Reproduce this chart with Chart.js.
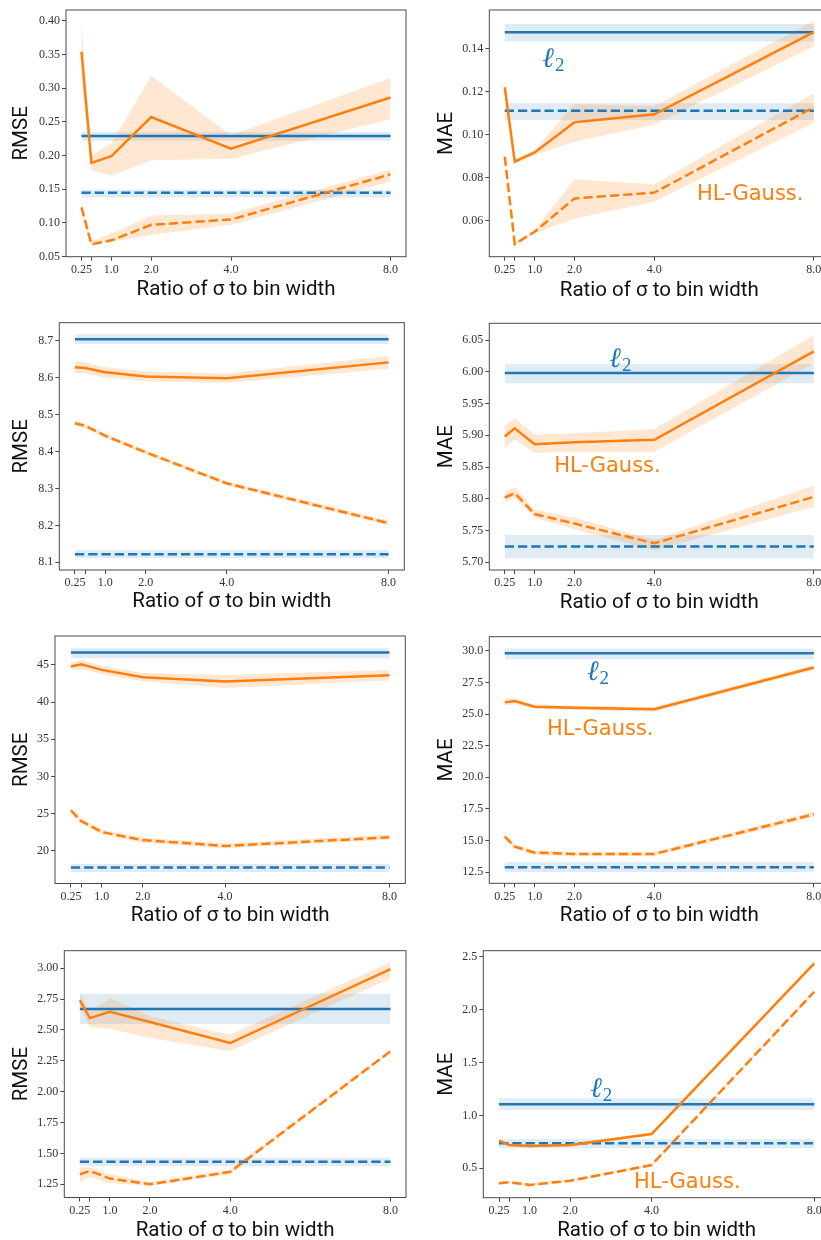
<!DOCTYPE html>
<html>
<head>
<meta charset="utf-8">
<script src="https://cdn.jsdelivr.net/npm/chart.js@4.4.1/dist/chart.umd.min.js"></script>
<style>
  html, body { margin: 0; padding: 0; background: #fff; width: 821px; height: 1240px; overflow: hidden; position: relative; }
  canvas { position: absolute; }
</style>
</head>
<body>
<script>
// --- shared x axis ---
const sigmaRatio = [0.25, 0.5, 1.0, 2.0, 4.0, 8.0];
const xTickLabels = ['0.25', '', '1.0', '2.0', '4.0', '8.0'];
const xTitle = 'Ratio of σ to bin width';

// --- panel 1: RMSE ---
const p1YTicks = ['0.05', '0.10', '0.15', '0.20', '0.25', '0.30', '0.35', '0.40'];
const p1Solid   = [0.354, 0.189, 0.199, 0.257, 0.210, 0.286];
const p1SolidLo = [0.310, 0.178, 0.170, 0.193, 0.195, 0.254];
const p1SolidHi = [0.400, 0.200, 0.218, 0.318, 0.230, 0.315];
const p1Dash    = [0.123, 0.068, 0.074, 0.097, 0.105, 0.172];
const p1DashLo  = [0.114, 0.066, 0.072, 0.082, 0.097, 0.161];
const p1DashHi  = [0.134, 0.072, 0.084, 0.111, 0.114, 0.179];
const p1L2      = [0.229, 0.222, 0.235];   // mean, lo, hi
const p1L2Dash  = [0.1445, 0.1376, 0.149];

// --- panel 2: MAE ---
const p2YTicks = ['0.06', '0.08', '0.10', '0.12', '0.14'];
const p2Solid   = [0.1222, 0.0876, 0.0919, 0.1059, 0.1096, 0.1478];
const p2SolidLo = [0.1210, 0.0865, 0.0907, 0.0969, 0.1047, 0.1411];
const p2SolidHi = [0.1235, 0.0887, 0.0930, 0.1144, 0.1135, 0.1532];
const p2Dash    = [0.0899, 0.0493, 0.0550, 0.0705, 0.0732, 0.1129];
const p2DashLo  = [0.0890, 0.0485, 0.0543, 0.0612, 0.0690, 0.1057];
const p2DashHi  = [0.0908, 0.0500, 0.0558, 0.0794, 0.0771, 0.1194];
const p2L2      = [0.1478, 0.1434, 0.1516];
const p2L2Dash  = [0.1112, 0.1070, 0.1147];

// --- panel 3: RMSE ---
const p3YTicks = ['8.1', '8.2', '8.3', '8.4', '8.5', '8.6', '8.7'];
const p3Solid   = [8.629, 8.627, 8.615, 8.604, 8.599, 8.642];
const p3SolidLo = [8.613, 8.612, 8.601, 8.591, 8.586, 8.625];
const p3SolidHi = [8.645, 8.642, 8.629, 8.617, 8.612, 8.659];
const p3Dash    = [8.477, 8.470, 8.443, 8.398, 8.314, 8.206];
const p3DashLo  = [8.471, 8.464, 8.437, 8.392, 8.308, 8.199];
const p3DashHi  = [8.483, 8.476, 8.449, 8.404, 8.320, 8.213];
const p3L2      = [8.705, 8.692, 8.718];
const p3L2Dash  = [8.122, 8.111, 8.133];

// --- panel 4: MAE ---
const p4YTicks = ['5.70', '5.75', '5.80', '5.85', '5.90', '5.95', '6.00', '6.05'];
const p4Solid   = [5.898, 5.911, 5.886, 5.889, 5.893, 6.032];
const p4SolidLo = [5.881, 5.893, 5.872, 5.874, 5.874, 6.013];
const p4SolidHi = [5.915, 5.927, 5.901, 5.903, 5.910, 6.058];
const p4Dash    = [5.802, 5.809, 5.776, 5.761, 5.730, 5.803];
const p4DashLo  = [5.794, 5.801, 5.770, 5.752, 5.719, 5.787];
const p4DashHi  = [5.811, 5.818, 5.783, 5.770, 5.735, 5.821];
const p4L2      = [5.998, 5.982, 6.012];
const p4L2Dash  = [5.725, 5.706, 5.743];

// --- panel 5: RMSE ---
const p5YTicks = ['20', '25', '30', '35', '40', '45'];
const p5Solid   = [44.78, 45.09, 44.33, 43.35, 42.77, 43.62];
const p5SolidLo = [44.30, 44.45, 43.75, 42.80, 41.90, 42.90];
const p5SolidHi = [45.25, 45.70, 44.90, 43.90, 43.65, 44.30];
const p5Dash    = [25.45, 24.02, 22.54, 21.47, 20.67, 21.83];
const p5DashLo  = [25.10, 23.70, 22.20, 21.10, 20.35, 21.50];
const p5DashHi  = [25.80, 24.35, 22.90, 21.80, 21.00, 22.20];
const p5L2      = [46.65, 45.89, 47.23];
const p5L2Dash  = [17.77, 17.19, 18.30];

// --- panel 6: MAE ---
const p6YTicks = ['12.5', '15.0', '17.5', '20.0', '22.5', '25.0', '27.5', '30.0'];
const p6Solid   = [25.92, 26.03, 25.58, 25.50, 25.37, 28.68];
const p6SolidLo = [25.65, 25.80, 25.40, 25.32, 25.18, 28.48];
const p6SolidHi = [26.18, 26.25, 25.75, 25.68, 25.55, 28.88];
const p6Dash    = [15.32, 14.53, 14.05, 13.95, 13.95, 17.08];
const p6DashLo  = [15.12, 14.33, 13.87, 13.78, 13.78, 16.85];
const p6DashHi  = [15.52, 14.73, 14.23, 14.12, 14.12, 17.30];
const p6L2      = [29.79, 29.32, 30.18];
const p6L2Dash  = [12.89, 12.50, 13.29];

// --- panel 7: RMSE ---
const p7YTicks = ['1.25', '1.50', '1.75', '2.00', '2.25', '2.50', '2.75', '3.00'];
const p7Solid   = [2.739, 2.596, 2.647, 2.565, 2.394, 2.992];
const p7SolidLo = [2.690, 2.524, 2.510, 2.435, 2.327, 2.919];
const p7SolidHi = [2.798, 2.650, 2.758, 2.610, 2.461, 3.050];
const p7Dash    = [1.331, 1.358, 1.296, 1.250, 1.350, 2.327];
const p7DashLo  = [1.263, 1.310, 1.260, 1.237, 1.330, 2.315];
const p7DashHi  = [1.385, 1.390, 1.330, 1.268, 1.370, 2.340];
const p7L2      = [2.669, 2.548, 2.793];
const p7L2Dash  = [1.433, 1.398, 1.465];

// --- panel 8: MAE ---
const p8YTicks = ['0.5', '1.0', '1.5', '2.0', '2.5'];
const p8Solid   = [0.761, 0.720, 0.711, 0.720, 0.824, 2.437];
const p8SolidLo = [0.746, 0.706, 0.697, 0.706, 0.810, 2.420];
const p8SolidHi = [0.776, 0.734, 0.725, 0.734, 0.838, 2.454];
const p8Dash    = [0.358, 0.368, 0.343, 0.383, 0.531, 2.169];
const p8DashLo  = [0.344, 0.354, 0.329, 0.369, 0.517, 2.152];
const p8DashHi  = [0.372, 0.382, 0.357, 0.397, 0.545, 2.186];
const p8L2      = [1.105, 1.051, 1.161];
const p8L2Dash  = [0.736, 0.689, 0.774];

const ORANGE = '#ff7f0e', BLUE = '#1f77b4';
const ORANGE_BAND = 'rgba(255,127,14,0.19)', BLUE_BAND = 'rgba(31,119,180,0.14)';
const DASH = [9.25, 4];

// layout: canvas box + measured frame (page px), axis range, title/label spots
const panels = [
  { x: 0,   y: 0,   w: 410, frame: [66, 10, 406, 256.7],      yLabel: 'RMSE', yRange: [0.0497, 0.416], ticks: p1YTicks,
    s: [p1Solid, p1SolidLo, p1SolidHi], d: [p1Dash, p1DashLo, p1DashHi], l2: p1L2, l2d: p1L2Dash, xPad: 11.9, notes: [] },
  { x: 410, y: 0,   w: 430, frame: [489.3, 10, 829.3, 256.7], yLabel: 'MAE',  yRange: [0.0434, 0.1581], ticks: p2YTicks,
    s: [p2Solid, p2SolidLo, p2SolidHi], d: [p2Dash, p2DashLo, p2DashHi], l2: p2L2, l2d: p2L2Dash, xPad: 11.2,
    notes: [{ t: 'l2', x: 1.19, y: 0.1318 }, { t: 'hl', x: 5.07, y: 0.0698 }] },
  { x: 0,   y: 310, w: 410, frame: [59.3, 322.7, 404.3, 570], yLabel: 'RMSE', yRange: [8.079, 8.7496], ticks: p3YTicks,
    s: [p3Solid, p3SolidLo, p3SolidHi], d: [p3Dash, p3DashLo, p3DashHi], l2: p3L2, l2d: p3L2Dash, xPad: 9.5, notes: [] },
  { x: 410, y: 310, w: 430, frame: [489.3, 323.3, 829.3, 570], yLabel: 'MAE', yRange: [5.6879, 6.0763], ticks: p4YTicks,
    s: [p4Solid, p4SolidLo, p4SolidHi], d: [p4Dash, p4DashLo, p4DashHi], l2: p4L2, l2d: p4L2Dash, xPad: 8.9,
    notes: [{ t: 'l2', x: 2.87, y: 6.007 }, { t: 'hl', x: 1.49, y: 5.8417 }] },
  { x: 0,   y: 620, w: 410, frame: [55, 636, 405.3, 883.5],    yLabel: 'RMSE', yRange: [15.63, 48.88], ticks: p5YTicks,
    s: [p5Solid, p5SolidLo, p5SolidHi], d: [p5Dash, p5DashLo, p5DashHi], l2: p5L2, l2d: p5L2Dash, xPad: 6.2, notes: [] },
  { x: 410, y: 620, w: 430, frame: [489.3, 636.7, 829.3, 883.3], yLabel: 'MAE', yRange: [11.63, 31.106], ticks: p6YTicks,
    s: [p6Solid, p6SolidLo, p6SolidHi], d: [p6Dash, p6DashLo, p6DashHi], l2: p6L2, l2d: p6L2Dash, xPad: 5.9,
    notes: [{ t: 'l2', x: 2.31, y: 27.68 }, { t: 'hl', x: 1.31, y: 23.34 }] },
  { x: 0,   y: 930, w: 410, frame: [64.3, 950.7, 406, 1197.5], yLabel: 'RMSE', yRange: [1.1426, 3.142], ticks: p7YTicks,
    s: [p7Solid, p7SolidLo, p7SolidHi], d: [p7Dash, p7DashLo, p7DashHi], l2: p7L2, l2d: p7L2Dash, xPad: 0.9, notes: [] },
  { x: 410, y: 930, w: 430, frame: [483.3, 950.7, 830, 1197.7], yLabel: 'MAE', yRange: [0.222, 2.557], ticks: p8YTicks,
    s: [p8Solid, p8SolidLo, p8SolidHi], d: [p8Dash, p8DashLo, p8DashHi], l2: p8L2, l2d: p8L2Dash, xPad: 0.9,
    notes: [{ t: 'l2', x: 2.49, y: 1.177 }, { t: 'hl', x: 3.57, y: 0.317 }] },
];

const pts = arr => arr.map((v, i) => ({ x: sigmaRatio[i], y: v }));
const flat = v => [{ x: sigmaRatio[0], y: v }, { x: sigmaRatio[sigmaRatio.length - 1], y: v }];

// full box + in-plot labels
const framePlugin = {
  id: 'frame',
  afterDraw(chart, args, opts) {
    const { ctx, chartArea: a } = chart;
    ctx.save();
    ctx.strokeStyle = '#4a4a4a'; ctx.lineWidth = 1;
    ctx.strokeRect(a.left, a.top, a.right - a.left, a.bottom - a.top);
    const xs = chart.scales.x, ys = chart.scales.y;
    (opts.notes || []).forEach(n => {
      const px = xs.getPixelForValue(n.x), py = ys.getPixelForValue(n.y);
      ctx.textAlign = 'left'; ctx.textBaseline = 'alphabetic';
      if (n.t === 'hl') {
        ctx.fillStyle = ORANGE; ctx.font = '21px "DejaVu Sans"';
        ctx.fillText('HL-Gauss.', px, py);
      } else {
        ctx.fillStyle = BLUE; ctx.font = 'italic 28px "DejaVu Serif"';
        ctx.fillText('ℓ', px, py);
        const w = ctx.measureText('ℓ').width;
        ctx.font = '19px "Liberation Serif"';
        ctx.fillText('2', px + w + 1, py + 4);
      }
    });
    ctx.restore();
  }
};

function buildPanel(p) {
  const cv = document.createElement('canvas');
  cv.width = p.w; cv.height = 310;
  cv.style.left = p.x + 'px'; cv.style.top = p.y + 'px';
  document.body.appendChild(cv);

  const [fl, ft, fr, fb] = p.frame;
  const yWidth = fl - p.x, xHeight = p.y + 310 - fb;
  const line = (data, color, dashed) => ({ data, borderColor: color, borderWidth: 2.5, borderDash: dashed ? DASH : [],
    pointRadius: 0, fill: false, order: 0, borderCapStyle: 'butt' });
  const edge = data => ({ data, borderWidth: 0, pointRadius: 0, fill: false, order: 2 });
  const band = (data, target, color) => ({ data, borderWidth: 0, pointRadius: 0, fill: target, backgroundColor: color, order: 2 });

  const datasets = [
    line(pts(p.s[0]), ORANGE, false),
    line(pts(p.d[0]), ORANGE, true),
    line(flat(p.l2[0]), BLUE, false),
    line(flat(p.l2d[0]), BLUE, true),
    edge(pts(p.s[2])),  band(pts(p.s[1]), 4, ORANGE_BAND),
    edge(pts(p.d[2])),  band(pts(p.d[1]), 6, ORANGE_BAND),
    edge(flat(p.l2[2])), band(flat(p.l2[1]), 8, BLUE_BAND),
    edge(flat(p.l2d[2])), band(flat(p.l2d[1]), 10, BLUE_BAND),
  ];

  const tickFont = { family: '"Liberation Serif"', size: 12 };
  const titleFont = { family: 'Roboto', size: 20.5, lineHeight: 0.8 };
  new Chart(cv, {
    type: 'line',
    data: { datasets },
    plugins: [framePlugin],
    options: {
      responsive: false, animation: false, devicePixelRatio: 1,
      layout: { padding: { top: ft - p.y, right: p.x + p.w - fr, left: 0, bottom: 0 } },
      plugins: { legend: { display: false }, tooltip: { enabled: false }, frame: { notes: p.notes } },
      scales: {
        x: {
          type: 'linear', min: -0.1375, max: 8.3875,
          afterFit: s => { s.height = xHeight; },
          afterBuildTicks: s => { s.ticks = sigmaRatio.map(v => ({ value: v })); },
          ticks: { autoSkip: false, maxRotation: 0, padding: 2, color: '#333', font: tickFont,
                   callback: (v, i) => xTickLabels[i] },
          grid: { drawOnChartArea: false, tickLength: 4, color: '#4a4a4a' },
          border: { display: false },
          title: { display: true, text: xTitle, color: '#111', font: titleFont, padding: { top: 0, bottom: p.xPad } }
        },
        y: {
          type: 'linear', min: p.yRange[0], max: p.yRange[1],
          afterFit: s => { s.width = yWidth; },
          afterBuildTicks: s => { s.ticks = p.ticks.map(t => ({ value: parseFloat(t) })); },
          ticks: { autoSkip: false, padding: 2, color: '#333', font: tickFont, callback: (v, i) => p.ticks[i] },
          grid: { drawOnChartArea: false, tickLength: 4, color: '#4a4a4a' },
          border: { display: false },
          title: { display: true, text: p.yLabel, color: '#111', font: titleFont,
                   padding: { top: p.x === 0 ? 14 : 28.7, bottom: 0 } }
        }
      }
    }
  });
}

panels.forEach(buildPanel);
</script>
</body>
</html>
